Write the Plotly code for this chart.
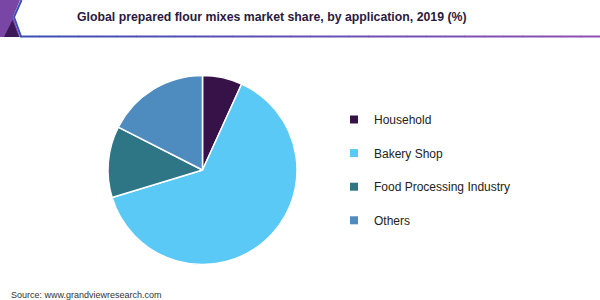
import plotly.graph_objects as go

categories = ["Household", "Bakery Shop", "Food Processing Industry", "Others"]
shares = [6.8, 63.5, 12.2, 17.5]
colors = ["#371248", "#5bc9f5", "#2e7686", "#4e8bbf"]
title_text = "Global prepared flour mixes market share, by application, 2019 (%)"
source_text = "Source: www.grandviewresearch.com"

W, H = 600, 300
FONT = "Liberation Sans, Arial, sans-serif"

def px(x):
    return x / W

def py(y):
    return 1 - y / H

fig = go.Figure()
fig.add_trace(go.Pie(
    labels=categories, values=shares, sort=False, direction="clockwise",
    rotation=0, marker=dict(colors=colors, line=dict(color="white", width=1.5)),
    textinfo="none", showlegend=False,
    domain=dict(x=[px(202.5 - 94.5), px(202.5 + 94.5)], y=[py(170 + 94.5), py(170 - 94.5)]),
))

for i, (c, col) in enumerate(zip(categories, colors)):
    fig.add_trace(go.Scatter(
        x=[None], y=[None], mode="markers", name=c, legendgroup=f"g{i}",
        marker=dict(symbol="square", size=8, color=col), showlegend=True,
    ))

shapes = []
# header decoration
shapes.append(dict(type="path", xref="paper", yref="paper",
                   path=f"M {px(0)} {py(0)} L {px(20)} {py(0)} L {px(13)} {py(17)} L {px(20)} {py(37)} L {px(0)} {py(37)} Z",
                   fillcolor="#7a46a6", line=dict(width=0), layer="above"))
shapes.append(dict(type="path", xref="paper", yref="paper",
                   path=f"M {px(4)} {py(37)} L {px(12.5)} {py(20)} L {px(19)} {py(37)} Z",
                   fillcolor="#3a1956", line=dict(width=0), layer="above"))
shapes.append(dict(type="path", xref="paper", yref="paper",
                   path=f"M {px(21.5)} {py(0)} L {px(14)} {py(17)} L {px(21)} {py(36.5)}",
                   line=dict(color="#3d4fb4", width=2), layer="above"))
# gradient underline
n = 30
c0 = (0x3d, 0x4f, 0xb4)
c1 = (0x8e, 0x4f, 0xb3)
x_start, x_end = 20, 600
for k in range(n):
    t = k / (n - 1)
    col = "rgb({},{},{})".format(*[int(a + (b - a) * t) for a, b in zip(c0, c1)])
    xa = x_start + (x_end - x_start) * k / n
    xb = x_start + (x_end - x_start) * (k + 1) / n + 0.5
    shapes.append(dict(type="line", xref="paper", yref="paper",
                       x0=px(xa), x1=px(xb), y0=py(36.5), y1=py(36.5),
                       line=dict(color=col, width=2), layer="above"))

fig.update_layout(
    width=W, height=H,
    margin=dict(l=0, r=0, t=0, b=0),
    paper_bgcolor="white", plot_bgcolor="white",
    xaxis=dict(visible=False), yaxis=dict(visible=False),
    font=dict(family=FONT, color="#222222", size=12),
    shapes=shapes,
    legend=dict(x=px(334), y=py(105), xanchor="left", yanchor="top",
                font=dict(size=12, color="#222222", family=FONT),
                tracegroupgap=14.6, itemclick=False, bgcolor="rgba(0,0,0,0)"),
    annotations=[
        dict(text=f"<b>{title_text}</b>", x=px(271.5), y=py(17), xref="paper", yref="paper",
             xanchor="center", yanchor="middle", showarrow=False,
             font=dict(size=12.3, color="#2b1a3d", family=FONT)),
        dict(text=source_text, x=px(9), y=py(295), xref="paper", yref="paper",
             xanchor="left", yanchor="middle", showarrow=False,
             font=dict(size=9, color="#333333", family=FONT)),
    ],
)

fig.write_html("out.html")
